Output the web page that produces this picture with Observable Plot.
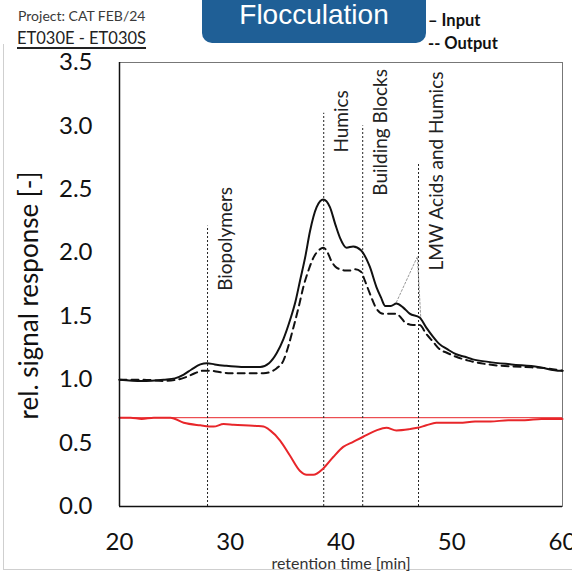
<!DOCTYPE html>
<html>
<head>
<meta charset="utf-8">
<script src="https://cdn.jsdelivr.net/npm/d3@7"></script>
<script src="https://cdn.jsdelivr.net/npm/@observablehq/plot@0.6"></script>
<style>
  html, body { margin: 0; padding: 0; background: #fff; }
  #wrap { position: relative; width: 572px; height: 573px; overflow: hidden; font-family: Lato, "Open Sans", sans-serif; }
  #chart { position: absolute; left: 0; top: 0; }
  .abs { position: absolute; line-height: 1; white-space: nowrap; }
  #border { position: absolute; left: 3px; top: 44px; width: 580px; height: 525px; border-left: 1px solid #cfcfcf; border-bottom: 1px solid #cfcfcf; }
  #titlebox { position: absolute; left: 202px; top: -15px; width: 224px; height: 58px; background: #1f5f96; border-radius: 10px; }
  #title { position: absolute; left: 202px; width: 224px; top: 1px; text-align: center; font-family: "Liberation Sans", Arial, sans-serif; font-size: 28px; color: #fff; line-height: 1; }
</style>
</head>
<body>
<div id="wrap">
  <div id="border"></div>
  <div id="chart"></div>
  <div id="titlebox"></div>
  <div id="title">Flocculation</div>
  <div class="abs" style="left:18px; top:9px; font-size:14px; color:#3a3a3a;">Project: CAT FEB/24</div>
  <div class="abs" style="left:17px; top:30px; font-size:16.5px; color:#222; text-decoration: underline; text-decoration-thickness: 1.5px; text-underline-offset: 3px;">ET030E - ET030S</div>
  <div class="abs" style="left:428px; top:12px; font-size:16.5px; font-weight:bold; color:#111;">– Input</div>
  <div class="abs" style="left:428px; top:35px; font-size:16.5px; font-weight:bold; color:#111;">-- Output</div>
</div>
<script>
// ---- data ----
const inputT = [20,22,24,25,25.8,26.5,27.3,27.9,28.6,29.5,31,32.7,33.5,34.2,34.8,35.4,35.9,36.3,36.8,37.2,37.8,38.4,39.0,39.5,39.9,40.5,41.1,41.8,42.6,43.2,43.6,44.0,44.5,45.0,45.6,46.2,47.1,47.7,48.3,48.9,49.6,50.4,51.2,51.9,53.3,55.4,57.8,59.8,60];
const inputV = [1.0,0.99,1.0,1.01,1.04,1.08,1.12,1.13,1.12,1.11,1.10,1.10,1.13,1.21,1.32,1.47,1.62,1.78,1.98,2.17,2.36,2.42,2.36,2.22,2.12,2.04,2.05,2.02,1.89,1.73,1.65,1.58,1.58,1.60,1.57,1.52,1.49,1.41,1.34,1.28,1.24,1.20,1.18,1.16,1.14,1.12,1.10,1.07,1.07];

const outputT = [20,22,24,25.2,26,26.8,27.5,28.2,29,30,31.5,33,33.6,34.2,34.8,35.3,35.7,36.2,36.6,37.1,37.5,38.0,38.4,38.8,39.1,39.5,39.9,40.4,40.8,41.3,41.8,42.2,42.6,43.2,43.8,44.4,45.0,45.4,45.8,46.5,47.1,47.7,48.3,48.9,49.6,50.4,51.5,53.3,56.4,58.5,60];
const outputV = [1.0,1.0,0.99,1.0,1.02,1.05,1.07,1.07,1.06,1.05,1.05,1.05,1.06,1.09,1.15,1.28,1.41,1.58,1.73,1.87,1.96,2.02,2.04,2.00,1.94,1.89,1.87,1.86,1.86,1.87,1.85,1.77,1.68,1.56,1.52,1.52,1.52,1.49,1.45,1.43,1.43,1.36,1.30,1.24,1.21,1.18,1.15,1.12,1.10,1.09,1.07];

const diffT = [20,21,22,23.1,24.6,25.8,27.3,28.5,29.4,30.3,31.2,32.4,33.0,33.6,34.5,35.4,36.3,36.9,37.5,38.4,39.3,40.2,41.1,42.0,43.2,44.1,45.0,46.2,46.9,47.7,48.6,49.5,50.7,52.1,53.5,55.1,56.6,58.1,60];
const diffV = [0.70,0.70,0.69,0.70,0.70,0.66,0.64,0.63,0.65,0.645,0.64,0.635,0.63,0.60,0.52,0.40,0.28,0.25,0.25,0.30,0.39,0.47,0.51,0.55,0.60,0.62,0.60,0.61,0.62,0.64,0.66,0.66,0.66,0.67,0.67,0.68,0.68,0.69,0.69];

const baselineValue = 0.7;

const markerT = [27.95, 38.44, 41.96, 47.0];
const markerTop = [2.21, 3.1, 3.0, 2.7];
const markerLabels = ["Biopolymers", "Humics", "Building Blocks", "LMW Acids and Humics"];
const markerLabelY = [1.70, 2.79, 2.45, 1.86];

const leaderT = [45.0, 46.9, 47.2];
const leaderV = [1.61, 1.97, 1.49];

const xTicks = [20, 30, 40, 50, 60];
const yTicks = [0, 0.5, 1.0, 1.5, 2.0, 2.5, 3.0, 3.5];
const xLabel = "retention time [min]";
const yLabel = "rel. signal response [-]";

// ---- tables ----
const zip = (a, b) => a.map((t, i) => ({t, v: b[i]}));
const input = zip(inputT, inputV);
const output = zip(outputT, outputV);
const diff = zip(diffT, diffV);
const leader = zip(leaderT, leaderV);
const markers = markerT.map((t, i) => ({t, top: markerTop[i], label: markerLabels[i], ly: markerLabelY[i]}));

const chart = Plot.plot({
  width: 572,
  height: 573,
  marginLeft: 119,
  marginRight: 10,
  marginTop: 62,
  marginBottom: 67,
  style: {fontFamily: "Lato, 'Open Sans', sans-serif", color: "#111", background: "transparent"},
  x: {domain: [20, 60]},
  y: {domain: [0, 3.5]},
  marks: [
    Plot.frame({stroke: "#777", strokeWidth: 1}),
    Plot.ruleY([baselineValue], {stroke: "#e8262a", strokeWidth: 1}),
    Plot.ruleX(markers, {x: "t", y1: 0, y2: "top", stroke: "#222", strokeWidth: 1, strokeDasharray: "2,2"}),
    Plot.line(leader, {x: "t", y: "v", stroke: "#999", strokeWidth: 1, strokeDasharray: "2,2"}),
    Plot.text(markers, {x: "t", y: "ly", text: "label", rotate: -90, textAnchor: "start", lineAnchor: "bottom", dx: 24, fontSize: 19, fill: "#222"}),
    Plot.line(diff, {x: "t", y: "v", stroke: "#e8262a", strokeWidth: 2, curve: "monotone-x"}),
    Plot.line(output, {x: "t", y: "v", stroke: "#111", strokeWidth: 2, strokeDasharray: "7,5", curve: "monotone-x"}),
    Plot.line(input, {x: "t", y: "v", stroke: "#111", strokeWidth: 2, curve: "monotone-x"}),
    Plot.ruleX([20], {stroke: "#111", strokeWidth: 1.5}),
    Plot.ruleY([0], {stroke: "#111", strokeWidth: 1.5}),
    Plot.axisX({ticks: xTicks, tickSize: 0, tickPadding: 26, fontSize: 24, label: null}),
    Plot.axisY({ticks: yTicks, tickFormat: d => d.toFixed(1), tickSize: 0, tickPadding: 27, fontSize: 24, label: null}),
    Plot.text([xLabel], {frameAnchor: "bottom", dy: 62, lineAnchor: "bottom", fontSize: 16, fill: "#333"}),
    Plot.text([yLabel], {frameAnchor: "left", dx: -82, dy: 11, rotate: -90, textAnchor: "middle", lineAnchor: "bottom", fontSize: 26, fill: "#111"})
  ]
});
document.getElementById("chart").appendChild(chart);
</script>
</body>
</html>
